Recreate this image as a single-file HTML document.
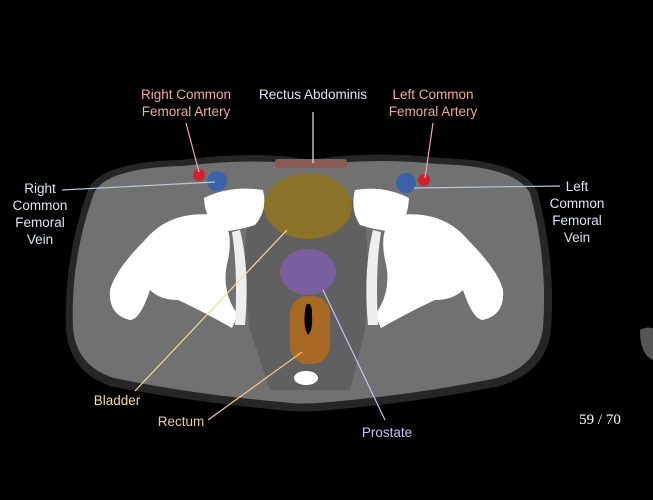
<!DOCTYPE html>
<html><head><style>
body{margin:0;background:#000;width:653px;height:500px;overflow:hidden}
svg{display:block}
text{font-family:"Liberation Sans",sans-serif;font-size:13.5px}
</style></head><body>
<svg width="653" height="500" viewBox="0 0 653 500">
<path d="M640,330 Q660,320 660,350 L653,360 Q640,355 640,330Z" fill="#555"/>
<path d="M88,190 Q100,162 180,160 Q260,150 310,160 Q370,150 440,158 Q520,160 537,190 Q556,260 551,330 Q546,372 500,386 Q420,402 330,410 Q300,413 280,410 Q190,402 110,386 Q70,372 66,330 Q63,260 88,190Z" fill="#262626"/>
<path d="M94,193 Q106,168 182,166 Q260,157 310,166 Q370,157 438,164 Q515,166 530,193 Q548,260 543,328 Q538,366 497,378 Q420,394 330,402 Q300,405 282,402 Q190,394 114,378 Q76,366 73,328 Q70,260 94,193Z" fill="#717171"/>
<path d="M250,200 Q240,260 250,330 L270,390 L350,390 L365,330 Q372,260 362,200Z" fill="#606060"/>
<path d="M145,240 Q170,210 215,215 Q235,225 228,260 Q220,290 238,315 L232,328 Q200,310 178,300 Q160,300 150,290 Q140,320 130,320 Q108,315 110,290 Q115,270 145,240Z" fill="#fff"/>
<path d="M204,198 Q230,185 263,190 Q268,210 255,225 Q240,230 220,232 Q205,220 204,198Z" fill="#fff"/>
<path d="M240,230 Q250,270 245,325 L235,325 Q238,270 232,232Z" fill="#eee"/>
<path d="M468,240 Q443,210 398,215 Q378,225 385,260 Q393,290 375,315 L381,328 Q413,310 435,300 Q453,300 463,290 Q473,320 483,320 Q505,315 503,290 Q498,270 468,240Z" fill="#fff"/>
<path d="M409,198 Q383,185 355,190 Q350,210 360,225 Q375,230 395,232 Q408,220 409,198Z" fill="#fff"/>
<path d="M373,230 Q363,270 368,325 L378,325 Q375,270 381,232Z" fill="#eee"/>
<rect x="275" y="159" width="72" height="9" rx="3" fill="#8a5a55"/>
<ellipse cx="308" cy="206" rx="44" ry="33" fill="#8a7228"/>
<ellipse cx="308" cy="272" rx="28" ry="23" fill="#7a5fa0"/>
<rect x="290" y="296" width="40" height="68" rx="18" fill="#a86a22"/>
<path d="M306,305 Q312,300 312,315 Q313,330 308,335 Q302,325 306,305Z" fill="#000"/>
<ellipse cx="306" cy="378" rx="12" ry="7" fill="#fff"/>
<circle cx="217" cy="181" r="10" fill="#3a62a6"/>
<circle cx="199" cy="175" r="6" fill="#d02030"/>
<circle cx="406" cy="183" r="10" fill="#3a62a6"/>
<circle cx="424" cy="180" r="6" fill="#d02030"/>
<g stroke-width="1.2" fill="none">
<line x1="186" y1="123" x2="199" y2="172" stroke="#f0a8a0"/>
<line x1="313" y1="112" x2="313" y2="163" stroke="#dde6f0"/>
<line x1="433" y1="123" x2="425" y2="178" stroke="#f0a8a0"/>
<line x1="62" y1="190" x2="215" y2="182" stroke="#b8c8e0"/>
<line x1="414" y1="188" x2="560" y2="186" stroke="#b8c8e0"/>
<line x1="135" y1="391" x2="287" y2="230" stroke="#f0dca0"/>
<line x1="208" y1="420" x2="302" y2="352" stroke="#f0c890"/>
<line x1="385" y1="420" x2="323" y2="290" stroke="#c8c0f0"/>
</g>
<g fill="#f0a8a0" text-anchor="middle"><text x="186" y="99">Right Common</text><text x="186" y="116">Femoral Artery</text>
<text x="433" y="99">Left Common</text><text x="433" y="116">Femoral Artery</text></g>
<g fill="#dde6f0" text-anchor="middle"><text x="313" y="99">Rectus Abdominis</text>
<text x="40" y="193">Right</text><text x="40" y="210">Common</text><text x="40" y="227">Femoral</text><text x="40" y="244">Vein</text>
<text x="577" y="191">Left</text><text x="577" y="208">Common</text><text x="577" y="225">Femoral</text><text x="577" y="242">Vein</text></g>
<text x="117" y="405" fill="#f0dca0" text-anchor="middle">Bladder</text>
<text x="181" y="426" fill="#f0c890" text-anchor="middle">Rectum</text>
<text x="387" y="437" fill="#c8c0f0" text-anchor="middle">Prostate</text>
<text x="600" y="424" fill="#fff" text-anchor="middle" style="font-family:'Liberation Serif',serif;font-size:15px">59 / 70</text>
</svg>
</body></html>
